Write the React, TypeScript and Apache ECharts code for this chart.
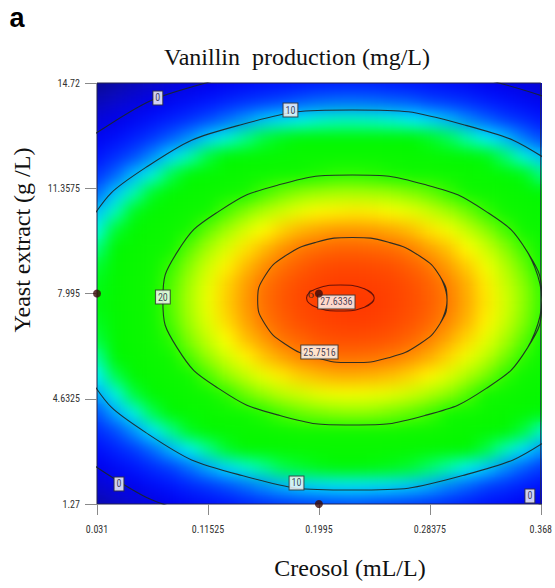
import React, { useEffect, useRef } from "react";
import * as echarts from "echarts";

// ---------- data ----------
const creosolLevels = [0.031, 0.045, 0.0591, 0.0731, 0.0872, 0.1012, 0.11525, 0.1293, 0.1433, 0.1574, 0.1714, 0.1855, 0.1995, 0.2135, 0.2276, 0.2416, 0.2557, 0.2697, 0.28375, 0.2978, 0.3118, 0.3259, 0.3399, 0.354, 0.368];
const yeastLevels = [1.27, 1.855, 2.44, 3.024, 3.609, 4.194, 4.779, 5.363, 5.948, 6.533, 7.118, 7.703, 8.287, 8.872, 9.457, 10.042, 10.627, 11.211, 11.796, 12.381, 12.966, 13.55, 14.135, 14.72];

// vanillin (mg/L); one row per yeast level (ascending), one column per creosol level (ascending)
const vanillinByYeast = [
  [-6.7, -4.7, -2.9, -1.3, 0.2, 1.6, 2.8, 3.9, 4.8, 5.6, 6.2, 6.7, 7.0, 7.2, 7.3, 7.1, 6.9, 6.5, 6.0, 5.3, 4.5, 3.5, 2.4, 1.1, -0.3],
  [-3.2, -1.2, 0.6, 2.2, 3.7, 5.1, 6.3, 7.4, 8.3, 9.1, 9.7, 10.2, 10.5, 10.7, 10.7, 10.6, 10.4, 10.0, 9.5, 8.8, 8.0, 7.0, 5.9, 4.6, 3.2],
  [0.0, 2.0, 3.7, 5.4, 6.9, 8.3, 9.5, 10.5, 11.5, 12.2, 12.9, 13.3, 13.7, 13.9, 13.9, 13.8, 13.6, 13.2, 12.6, 12.0, 11.1, 10.1, 9.0, 7.8, 6.3],
  [2.8, 4.8, 6.6, 8.2, 9.7, 11.1, 12.3, 13.4, 14.3, 15.1, 15.7, 16.2, 16.5, 16.7, 16.8, 16.7, 16.4, 16.0, 15.5, 14.8, 14.0, 13.0, 11.9, 10.6, 9.2],
  [5.4, 7.3, 9.1, 10.8, 12.3, 13.6, 14.8, 15.9, 16.8, 17.6, 18.2, 18.7, 19.0, 19.2, 19.3, 19.2, 18.9, 18.5, 18.0, 17.3, 16.5, 15.5, 14.4, 13.1, 11.7],
  [7.5, 9.5, 11.3, 12.9, 14.4, 15.8, 17.0, 18.1, 19.0, 19.8, 20.4, 20.9, 21.2, 21.4, 21.5, 21.4, 21.1, 20.7, 20.2, 19.5, 18.7, 17.7, 16.6, 15.3, 13.9],
  [9.4, 11.3, 13.1, 14.8, 16.3, 17.7, 18.9, 19.9, 20.9, 21.6, 22.3, 22.7, 23.1, 23.3, 23.3, 23.2, 23.0, 22.6, 22.0, 21.4, 20.5, 19.5, 18.4, 17.1, 15.7],
  [10.9, 12.9, 14.7, 16.3, 17.8, 19.2, 20.4, 21.5, 22.4, 23.2, 23.8, 24.3, 24.6, 24.8, 24.8, 24.7, 24.5, 24.1, 23.6, 22.9, 22.0, 21.1, 19.9, 18.7, 17.3],
  [12.1, 14.1, 15.9, 17.5, 19.0, 20.4, 21.6, 22.7, 23.6, 24.4, 25.0, 25.5, 25.8, 26.0, 26.0, 25.9, 25.7, 25.3, 24.8, 24.1, 23.2, 22.3, 21.1, 19.9, 18.5],
  [13.0, 14.9, 16.7, 18.4, 19.9, 21.3, 22.5, 23.5, 24.5, 25.2, 25.9, 26.3, 26.7, 26.9, 26.9, 26.8, 26.6, 26.2, 25.6, 24.9, 24.1, 23.1, 22.0, 20.7, 19.3],
  [13.5, 15.5, 17.3, 18.9, 20.4, 21.8, 23.0, 24.1, 25.0, 25.8, 26.4, 26.9, 27.2, 27.4, 27.5, 27.4, 27.1, 26.7, 26.2, 25.5, 24.7, 23.7, 22.6, 21.3, 19.9],
  [13.8, 15.7, 17.5, 19.1, 20.6, 22.0, 23.2, 24.3, 25.2, 26.0, 26.6, 27.1, 27.4, 27.6, 27.7, 27.6, 27.3, 26.9, 26.4, 25.7, 24.9, 23.9, 22.8, 21.5, 20.1],
  [13.6, 15.6, 17.4, 19.0, 20.5, 21.9, 23.1, 24.2, 25.1, 25.9, 26.5, 27.0, 27.3, 27.5, 27.5, 27.4, 27.2, 26.8, 26.3, 25.6, 24.8, 23.8, 22.6, 21.4, 20.0],
  [13.2, 15.1, 16.9, 18.6, 20.1, 21.4, 22.7, 23.7, 24.6, 25.4, 26.0, 26.5, 26.9, 27.1, 27.1, 27.0, 26.8, 26.4, 25.8, 25.1, 24.3, 23.3, 22.2, 20.9, 19.5],
  [12.4, 14.4, 16.2, 17.8, 19.3, 20.7, 21.9, 22.9, 23.9, 24.6, 25.3, 25.8, 26.1, 26.3, 26.3, 26.2, 26.0, 25.6, 25.0, 24.4, 23.5, 22.6, 21.4, 20.2, 18.7],
  [11.3, 13.3, 15.1, 16.7, 18.2, 19.6, 20.8, 21.8, 22.8, 23.5, 24.2, 24.7, 25.0, 25.2, 25.2, 25.1, 24.9, 24.5, 23.9, 23.3, 22.4, 21.4, 20.3, 19.1, 17.6],
  [9.9, 11.8, 13.6, 15.3, 16.8, 18.1, 19.3, 20.4, 21.3, 22.1, 22.7, 23.2, 23.6, 23.7, 23.8, 23.7, 23.4, 23.1, 22.5, 21.8, 21.0, 20.0, 18.9, 17.6, 16.2],
  [8.1, 10.1, 11.9, 13.5, 15.0, 16.4, 17.6, 18.7, 19.6, 20.3, 21.0, 21.5, 21.8, 22.0, 22.0, 21.9, 21.7, 21.3, 20.8, 20.1, 19.2, 18.3, 17.1, 15.9, 14.5],
  [6.0, 8.0, 9.8, 11.4, 12.9, 14.3, 15.5, 16.6, 17.5, 18.3, 18.9, 19.4, 19.7, 19.9, 19.9, 19.8, 19.6, 19.2, 18.7, 18.0, 17.1, 16.2, 15.0, 13.8, 12.4],
  [3.6, 5.6, 7.4, 9.0, 10.5, 11.9, 13.1, 14.1, 15.1, 15.8, 16.5, 17.0, 17.3, 17.5, 17.5, 17.4, 17.2, 16.8, 16.2, 15.6, 14.7, 13.8, 12.6, 11.4, 9.9],
  [0.9, 2.8, 4.6, 6.3, 7.8, 9.1, 10.3, 11.4, 12.3, 13.1, 13.7, 14.2, 14.5, 14.7, 14.8, 14.7, 14.4, 14.0, 13.5, 12.8, 12.0, 11.0, 9.9, 8.6, 7.2],
  [-2.2, -0.3, 1.5, 3.2, 4.7, 6.0, 7.3, 8.3, 9.2, 10.0, 10.6, 11.1, 11.5, 11.7, 11.7, 11.6, 11.4, 11.0, 10.4, 9.7, 8.9, 7.9, 6.8, 5.5, 4.1],
  [-5.6, -3.7, -1.9, -0.2, 1.3, 2.6, 3.9, 4.9, 5.8, 6.6, 7.2, 7.7, 8.1, 8.3, 8.3, 8.2, 7.9, 7.6, 7.0, 6.3, 5.5, 4.5, 3.4, 2.1, 0.7],
  [-9.3, -7.4, -5.6, -4.0, -2.5, -1.1, 0.1, 1.2, 2.1, 2.9, 3.5, 4.0, 4.3, 4.5, 4.6, 4.5, 4.2, 3.8, 3.3, 2.6, 1.8, 0.8, -0.3, -1.6, -3.0],
];

// contour lines [creosol, yeast]
const contour0 = [[0.4983, 7.787], [0.4775, 10.691], [0.4182, 13.152], [0.3296, 14.797], [0.2249, 15.375], [0.1202, 14.797], [0.0316, 13.152], [-0.0277, 10.691], [-0.0485, 7.787], [-0.0277, 4.883], [0.0316, 2.422], [0.1202, 0.777], [0.2249, 0.199], [0.3296, 0.777], [0.4182, 2.422], [0.4775, 4.883]];
const contour10 = [[0.4438, 7.787], [0.4271, 10.11], [0.3797, 12.079], [0.3087, 13.395], [0.2249, 13.857], [0.1411, 13.395], [0.0701, 12.079], [0.0227, 10.11], [0.006, 7.787], [0.0227, 5.464], [0.0701, 3.495], [0.1411, 2.179], [0.2249, 1.717], [0.3087, 2.179], [0.3797, 3.495], [0.4271, 5.464]];
const contour20 = [[0.3688, 7.787], [0.3579, 9.316], [0.3266, 10.61], [0.28, 11.476], [0.2249, 11.78], [0.1698, 11.476], [0.1232, 10.61], [0.0919, 9.316], [0.081, 7.787], [0.0919, 6.258], [0.1232, 4.964], [0.1698, 4.098], [0.2249, 3.794], [0.28, 4.098], [0.3266, 4.964], [0.3579, 6.258]];
const contour25 = [[0.2968, 7.787], [0.2913, 8.552], [0.2757, 9.199], [0.2524, 9.632], [0.2249, 9.784], [0.1974, 9.632], [0.1741, 9.199], [0.1585, 8.552], [0.153, 7.787], [0.1585, 7.022], [0.1741, 6.375], [0.1974, 5.942], [0.2249, 5.79], [0.2524, 5.942], [0.2757, 6.375], [0.2913, 7.022]];
const contour27 = [[0.2415, 7.851], [0.234, 8.144], [0.2158, 8.266], [0.1976, 8.144], [0.1901, 7.851], [0.1976, 7.558], [0.2158, 7.436], [0.234, 7.558]];

const contourLabels = [
  { value: [0.0772, 14.241], name: "0" },
  { value: [0.1779, 13.857], name: "10" },
  { value: [0.081, 7.883], name: "20" },
  { value: [0.1999, 6.126], name: "25.7516" },
  { value: [0.2128, 7.724], name: "27.6336" },
  { value: [0.1825, 1.941], name: "10" },
  { value: [0.0477, 1.909], name: "0" },
  { value: [0.3597, 1.526], name: "0" },
];

const designPoints = [[0.031, 7.995], [0.1995, 7.995], [0.1995, 1.27]];
const centerReplicates = "6";

const xTickValues = [0.031, 0.11525, 0.1995, 0.28375, 0.368];
const xTickLabels = ["0.031", "0.11525", "0.1995", "0.28375", "0.368"];
const yTickValues = [1.27, 4.6325, 7.995, 11.3575, 14.72];
const yTickLabels = ["1.27", "4.6325", "7.995", "11.3575", "14.72"];

// ---------- styles ----------
const GRID = { left: 97, top: 83, width: 445, height: 421 };
const paletteStops: [number, string][] = [
  [-10, "#0b0b8c"], [-4, "#0a0ac8"], [0, "#0000ee"], [4, "#0016ff"], [7, "#0040ff"],
  [8.8, "#0080ff"], [10, "#00c8ff"], [11, "#00f4ff"], [12, "#00ffb0"], [13, "#00ff40"],
  [14, "#00f800"], [19.5, "#10f800"], [21.5, "#90ff00"], [23.5, "#ffff00"], [24.8, "#ffb000"],
  [25.8, "#ff7800"], [26.8, "#ff5000"], [28, "#ff3000"],
];
function hex(c: string) { return [1, 3, 5].map((k) => parseInt(c.slice(k, k + 2), 16)); }
function buildPalette() {
  const out: string[] = [];
  for (let s = 0; s <= 152; s++) {
    const v = -10 + s * 0.25;
    let k = 0;
    while (k < paletteStops.length - 2 && v > paletteStops[k + 1][0]) k++;
    const [v0, c0] = paletteStops[k];
    const [v1, c1] = paletteStops[k + 1];
    const t = Math.max(0, Math.min(1, (v - v0) / (v1 - v0)));
    const a = hex(c0), b = hex(c1);
    const m = a.map((x, q) => Math.round(x + (b[q] - x) * t));
    out.push(`rgb(${m[0]},${m[1]},${m[2]})`);
  }
  return out;
}
const NARROW = "'Liberation Sans Narrow', 'Arial Narrow', 'Roboto Condensed', 'DejaVu Sans Condensed', 'Liberation Sans', sans-serif";
const SERIF = "'Liberation Serif', 'Times New Roman', serif";

function closeLoop(p: number[][]) {
  return [p[p.length - 1], ...p, p[0], p[1]];
}

function bgOption() {
  const data: number[][] = [];
  vanillinByYeast.forEach((row, j) => row.forEach((v, i) => data.push([i, j, v])));
  const cellW = GRID.width / (creosolLevels.length - 1);
  const cellH = GRID.height / (yeastLevels.length - 1);
  return {
    animation: false,
    grid: { left: 10 - cellW / 2, top: 10 - cellH / 2, width: GRID.width + cellW, height: GRID.height + cellH },
    xAxis: { type: "category", data: creosolLevels.map(String), show: false },
    yAxis: { type: "category", data: yeastLevels.map(String), show: false },
    visualMap: { show: false, type: "continuous", min: -10, max: 28, dimension: 2, inRange: { color: buildPalette() } },
    series: [{ type: "heatmap", data, progressive: 0, silent: true, itemStyle: { borderWidth: 0 } }],
  };
}

function mainOption() {
  const lineStyle = { color: "#1c2626", width: 1.1, opacity: 0.9 };
  const contourSeries = [contour0, contour10, contour20, contour25].map((c) => ({
    type: "line", data: closeLoop(c), smooth: 0.5, symbol: "none", silent: true, clip: true,
    lineStyle, z: 3,
  }));
  return {
    animation: false,
    backgroundColor: "transparent",
    grid: { ...GRID, show: true, borderColor: "#23234e", borderWidth: 1, backgroundColor: "transparent" },
    xAxis: {
      type: "value", min: 0.031, max: 0.368,
      splitLine: { show: false }, axisLine: { show: false },
      axisTick: { show: true, customValues: xTickValues, length: 11, lineStyle: { color: "#8a8a8a" } },
      axisLabel: {
        customValues: xTickValues, margin: 20, fontSize: 10, color: "#333", fontFamily: NARROW,
        formatter: (v: number) => xTickLabels[xTickValues.findIndex((t) => Math.abs(t - v) < 1e-6)] ?? "",
      },
    },
    yAxis: {
      type: "value", min: 1.27, max: 14.72,
      splitLine: { show: false }, axisLine: { show: false },
      axisTick: { show: true, customValues: yTickValues, length: 12, lineStyle: { color: "#8a8a8a" } },
      axisLabel: {
        customValues: yTickValues, margin: 17, fontSize: 10, color: "#333", fontFamily: NARROW,
        formatter: (v: number) => yTickLabels[yTickValues.findIndex((t) => Math.abs(t - v) < 1e-6)] ?? "",
      },
    },
    series: [
      ...contourSeries,
      {
        type: "line", data: closeLoop(contour27), smooth: 0.5, symbol: "none", silent: true, clip: true,
        lineStyle: { color: "#6a1208", width: 1.1 }, z: 3,
      },
      {
        type: "scatter", data: contourLabels, symbolSize: 1, silent: true, z: 5,
        itemStyle: { color: "rgba(0,0,0,0)" },
        label: {
          show: true, position: "inside", formatter: "{b}", fontSize: 10, fontFamily: NARROW, color: "#1a1a3a",
          backgroundColor: "#ffffff", borderColor: "#333", borderWidth: 1, padding: [2, 2, 1, 2],
        },
      },
      {
        type: "scatter", silent: true, z: 6, symbolSize: 8,
        itemStyle: { color: "#3a0a0a" },
        data: designPoints.map((p, k) => k === 1
          ? { value: p, label: { show: true, formatter: centerReplicates, position: "left", distance: 1, fontSize: 13, fontFamily: SERIF, color: "#222" } }
          : { value: p }),
      },
    ],
    graphic: [
      { type: "text", x: 17, y: 18, style: { text: "a", font: "bold 27px 'Liberation Sans', Arial, sans-serif", fill: "#000", align: "center", verticalAlign: "middle" } },
      { type: "text", x: 297, y: 57, style: { text: "Vanillin  production (mg/L)", font: `24px ${SERIF}`, fill: "#111", align: "center", verticalAlign: "middle" } },
      { type: "text", x: 350, y: 568, style: { text: "Creosol (mL/L)", font: `24px ${SERIF}`, fill: "#111", align: "center", verticalAlign: "middle" } },
      { type: "text", x: 22, y: 240, rotation: Math.PI / 2, style: { text: "Yeast extract (g /L)", font: `24px ${SERIF}`, fill: "#111", align: "center", verticalAlign: "middle" } },
    ],
  };
}

export default function App() {
  const sharpRef = useRef<HTMLDivElement>(null);
  const blurRef = useRef<HTMLDivElement>(null);
  const mainRef = useRef<HTMLDivElement>(null);
  useEffect(() => {
    const c1 = echarts.init(sharpRef.current!, null, { renderer: "svg" });
    c1.setOption(bgOption() as any);
    const c2 = echarts.init(blurRef.current!, null, { renderer: "svg" });
    c2.setOption(bgOption() as any);
    const c3 = echarts.init(mainRef.current!, null, { renderer: "svg" });
    c3.setOption(mainOption() as any);
    return () => { c1.dispose(); c2.dispose(); c3.dispose(); };
  }, []);
  const bgBox: React.CSSProperties = { position: "absolute", left: -10, top: -10, width: GRID.width + 20, height: GRID.height + 20 };
  return (
    <div style={{ position: "fixed", left: 0, top: 0, width: 555, height: 588, background: "#fff", overflow: "hidden" }}>
      <div style={{ position: "absolute", left: GRID.left, top: GRID.top, width: GRID.width, height: GRID.height, overflow: "hidden" }}>
        <div ref={sharpRef} style={bgBox} />
        <div ref={blurRef} style={{ ...bgBox, filter: "blur(8px)" }} />
      </div>
      <div ref={mainRef} style={{ position: "absolute", left: 0, top: 0, width: 555, height: 588 }} />
    </div>
  );
}
